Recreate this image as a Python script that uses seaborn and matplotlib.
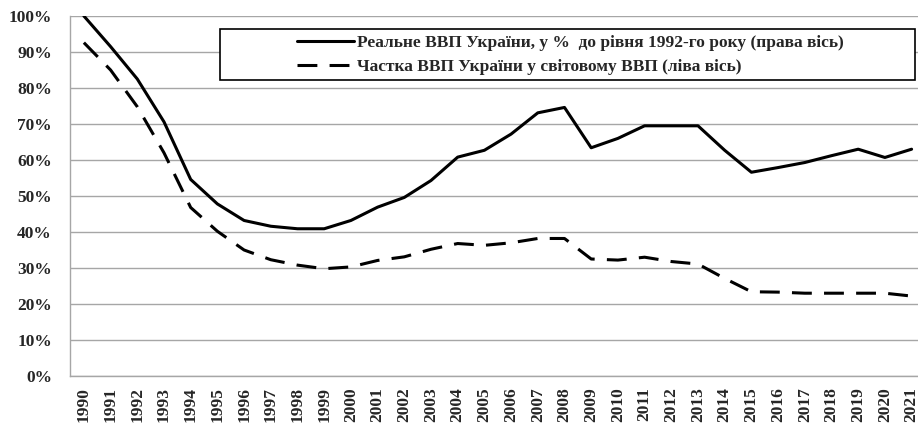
"""Real GDP of Ukraine vs. its share of world GDP, 1990-2021."""
import matplotlib
matplotlib.use('Agg')
import matplotlib.pyplot as plt
from matplotlib.patches import Rectangle
from matplotlib.ticker import PercentFormatter
import numpy as np
import pandas as pd
import seaborn as sns

years = list(range(1990, 2022))

real_gdp = [100, 91.5, 82.5, 70.6, 54.6, 47.8, 43.2, 41.6, 40.9, 40.9,
            43.2, 46.9, 49.6, 54.3, 60.8, 62.7, 67.2, 73.1, 74.6, 63.4,
            66.0, 69.5, 69.5, 69.5, 62.7, 56.6, 57.9, 59.3, 61.2, 63.0,
            60.7, 63.0]

world_share = [92.6, 85.0, 74.8, 62.0, 46.8, 40.2, 35.0, 32.3, 30.8, 29.8,
               30.3, 32.1, 33.1, 35.2, 36.8, 36.3, 37.0, 38.2, 38.2, 32.5,
               32.2, 33.0, 31.8, 31.1, 27.1, 23.4, 23.3, 23.0, 23.0, 23.0,
               23.0, 22.2]

label_real = 'Реальне ВВП України, у %  до рівня 1992-го року (права вісь)'
label_share = 'Частка ВВП України у світовому ВВП (ліва вісь)'

df = pd.DataFrame({
    'x': np.tile(np.arange(len(years)), 2),
    'value': real_gdp + world_share,
    'series': [label_real] * len(years) + [label_share] * len(years),
})

sns.set_style('white')
plt.rcParams['font.family'] = ['Liberation Serif', 'DejaVu Serif']
plt.rcParams['font.weight'] = 'bold'

LW = 2.2
DASH = (6.5, 4.0)
FS = 12.5

fig = plt.figure(figsize=(9.18, 4.32), dpi=100)
ax = fig.add_axes([70 / 918, 56 / 432, 848 / 918, 360 / 432])

sns.lineplot(data=df, x='x', y='value', hue='series', style='series',
             palette=['black', 'black'], dashes=[(None, None), DASH],
             linewidth=LW, ax=ax, legend=False)

ax.set_xlim(-0.52, 31.24)
ax.set_ylim(0, 100)
ax.set_yticks(np.arange(0, 101, 10))
ax.yaxis.set_major_formatter(PercentFormatter(decimals=0))
ax.set_xticks(range(len(years)))
ax.set_xticklabels([str(y) for y in years], rotation=90)
ax.tick_params(axis='both', labelsize=FS, length=0)
ax.tick_params(axis='y', pad=13)
ax.tick_params(axis='x', pad=8)
for lab in ax.get_xticklabels() + ax.get_yticklabels():
    lab.set_fontweight('bold')
ax.set_xlabel('')
ax.set_ylabel('')

ax.grid(axis='y', color='#a6a6a6', linewidth=1)
ax.set_axisbelow(True)
for side in ['top', 'right']:
    ax.spines[side].set_visible(False)
for side in ['left', 'bottom']:
    ax.spines[side].set_color('#a6a6a6')
    ax.spines[side].set_linewidth(1)

# legend box
box = Rectangle((220 / 918, 1 - 80 / 432), 695 / 918, 51 / 432,
                transform=fig.transFigure, facecolor='white',
                edgecolor='black', linewidth=1.2, zorder=5)
fig.patches.append(box)

handles = [plt.Line2D([], [], color='black', linewidth=LW),
           plt.Line2D([], [], color='black', linewidth=LW, dashes=DASH)]
leg = fig.legend(handles, [label_real, label_share], loc='center',
                 bbox_to_anchor=(570 / 918, 1 - 55 / 432),
                 frameon=False, handlelength=3.3,
                 handletextpad=0.15, labelspacing=0.45,
                 prop={'weight': 'bold', 'size': FS})
leg.set_zorder(6)

fig.savefig('out.png', dpi=100)
